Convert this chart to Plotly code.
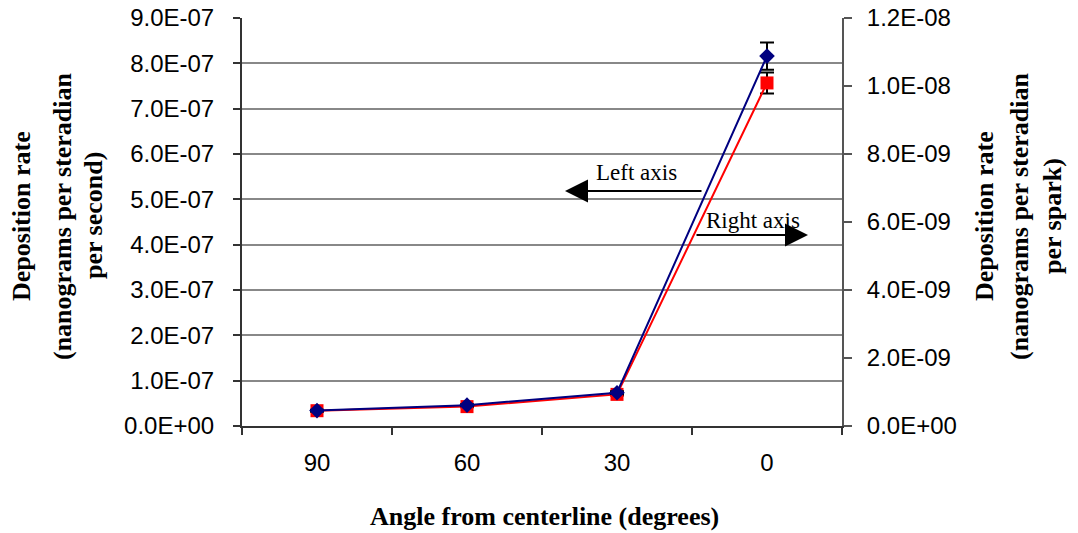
import plotly.graph_objects as go

# Angle categories (degrees from centerline)
angles = ["90", "60", "30", "0"]

# Deposition rate, nanograms per steradian per second (left axis)
rate_per_second = [3.4e-08, 4.6e-08, 7.35e-08, 8.16e-07]
rate_per_second_err = [2.0e-09, 2.0e-09, 3.0e-09, 3.0e-08]

# Deposition rate, nanograms per steradian per spark (right axis)
rate_per_spark = [4.5e-10, 5.7e-10, 9.3e-10, 1.009e-08]
rate_per_spark_err = [2.0e-11, 2.0e-11, 3.0e-11, 3.1e-10]

left_ticks = [0, 1e-07, 2e-07, 3e-07, 4e-07, 5e-07, 6e-07, 7e-07, 8e-07, 9e-07]
left_tick_text = ["0.0E+00", "1.0E-07", "2.0E-07", "3.0E-07", "4.0E-07",
                  "5.0E-07", "6.0E-07", "7.0E-07", "8.0E-07", "9.0E-07"]
right_ticks = [0, 2e-09, 4e-09, 6e-09, 8e-09, 1e-08, 1.2e-08]
right_tick_text = ["0.0E+00", "2.0E-09", "4.0E-09", "6.0E-09", "8.0E-09",
                   "1.0E-08", "1.2E-08"]

NAVY = "#000080"
RED = "#FF0000"
SANS = "Liberation Sans, Arial, sans-serif"
SERIF = "Liberation Serif, Times New Roman, serif"

# plot area in pixels
L, R, T, B = 242, 842, 18, 426
W, H = 1078, 533


def px(x):
    return (x - L) / (R - L)


def py(y):
    return (B - y) / (B - T)


fig = go.Figure()

# per-spark series (drawn on the right-hand axis)
fig.add_trace(go.Scatter(
    x=angles, y=rate_per_spark, yaxis="y",
    mode="lines+markers",
    line=dict(color=RED, width=2),
    marker=dict(symbol="square", size=13, color=RED),
    error_y=dict(type="data", array=rate_per_spark_err, color="black",
                 thickness=2, width=7),
    showlegend=False,
))

# per-second series (drawn on the left-hand axis)
fig.add_trace(go.Scatter(
    x=angles, y=rate_per_second, yaxis="y2",
    mode="lines+markers",
    line=dict(color=NAVY, width=2),
    marker=dict(symbol="diamond", size=12, color=NAVY),
    error_y=dict(type="data", array=rate_per_second_err, color="black",
                 thickness=2, width=7),
    showlegend=False,
))

tick_font = dict(family=SANS, size=24, color="black")

fig.update_layout(
    width=W, height=H,
    margin=dict(l=L, r=W - R, t=T, b=H - B, pad=0, autoexpand=False),
    paper_bgcolor="white", plot_bgcolor="white",
    xaxis=dict(
        type="category", range=[-0.5, 3.5], automargin=False,
        tickson="boundaries", ticks="outside", ticklen=7, tickwidth=1.5,
        tickcolor="#333333",
        showline=True, linecolor="#333333", linewidth=2,
        showgrid=False, tickfont=tick_font, ticklabelstandoff=14,
    ),
    yaxis=dict(
        side="right", range=[0, 1.2e-08], automargin=False,
        tickvals=right_ticks, ticktext=right_tick_text,
        ticks="outside", ticklen=8, tickwidth=1.5, tickcolor="#555555",
        showline=True, linecolor="#555555", linewidth=2,
        showgrid=False, zeroline=False, tickfont=tick_font,
        ticklabelstandoff=10,
    ),
    yaxis2=dict(
        overlaying="y", side="left", range=[0, 9e-07], automargin=False,
        tickvals=left_ticks, ticktext=left_tick_text,
        ticks="outside", ticklen=7, tickwidth=1.5, tickcolor="#333333",
        showline=True, linecolor="#333333", linewidth=2,
        showgrid=True, gridcolor="#888888", gridwidth=1.5,
        zeroline=False, tickfont=tick_font, ticklabelstandoff=14,
    ),
)

title_font = dict(family=SERIF, size=26, color="black")
annotations = []

# left axis title
for text, xc in [("Deposition rate", 21),
                 ("(nanograms per steradian", 62),
                 ("per second)", 93)]:
    annotations.append(dict(
        text=f"<b>{text}</b>", xref="paper", yref="paper",
        x=px(xc), y=py(216), xanchor="center", yanchor="middle",
        textangle=-90, showarrow=False, font=title_font))

# right axis title
for text, xc in [("Deposition rate", 984),
                 ("(nanograms per steradian", 1019),
                 ("per spark)", 1052)]:
    annotations.append(dict(
        text=f"<b>{text}</b>", xref="paper", yref="paper",
        x=px(xc), y=py(216), xanchor="center", yanchor="middle",
        textangle=-90, showarrow=False, font=title_font))

# x axis title
annotations.append(dict(
    text="<b>Angle from centerline (degrees)</b>", xref="paper", yref="paper",
    x=px(544), y=py(516), xanchor="center", yanchor="middle",
    showarrow=False, font=title_font))

# axis pointers
label_font = dict(family=SERIF, size=23, color="black")
annotations.append(dict(
    text="Left axis", xref="paper", yref="paper",
    x=px(636), y=py(172), xanchor="center", yanchor="middle",
    showarrow=False, font=label_font))
annotations.append(dict(
    text="Right axis", xref="paper", yref="paper",
    x=px(753), y=py(220), xanchor="center", yanchor="middle",
    showarrow=False, font=label_font))
annotations.append(dict(
    text="", xref="paper", yref="paper",
    x=px(565), y=py(191), ax=138, ay=0,
    showarrow=True, arrowhead=2, arrowsize=2.3, arrowwidth=2,
    arrowcolor="black", standoff=0))
annotations.append(dict(
    text="", xref="paper", yref="paper",
    x=px(808), y=py(235), ax=-113, ay=0,
    showarrow=True, arrowhead=2, arrowsize=2.3, arrowwidth=2,
    arrowcolor="black", standoff=0))

fig.update_layout(annotations=annotations)

fig.write_html("out.html")
